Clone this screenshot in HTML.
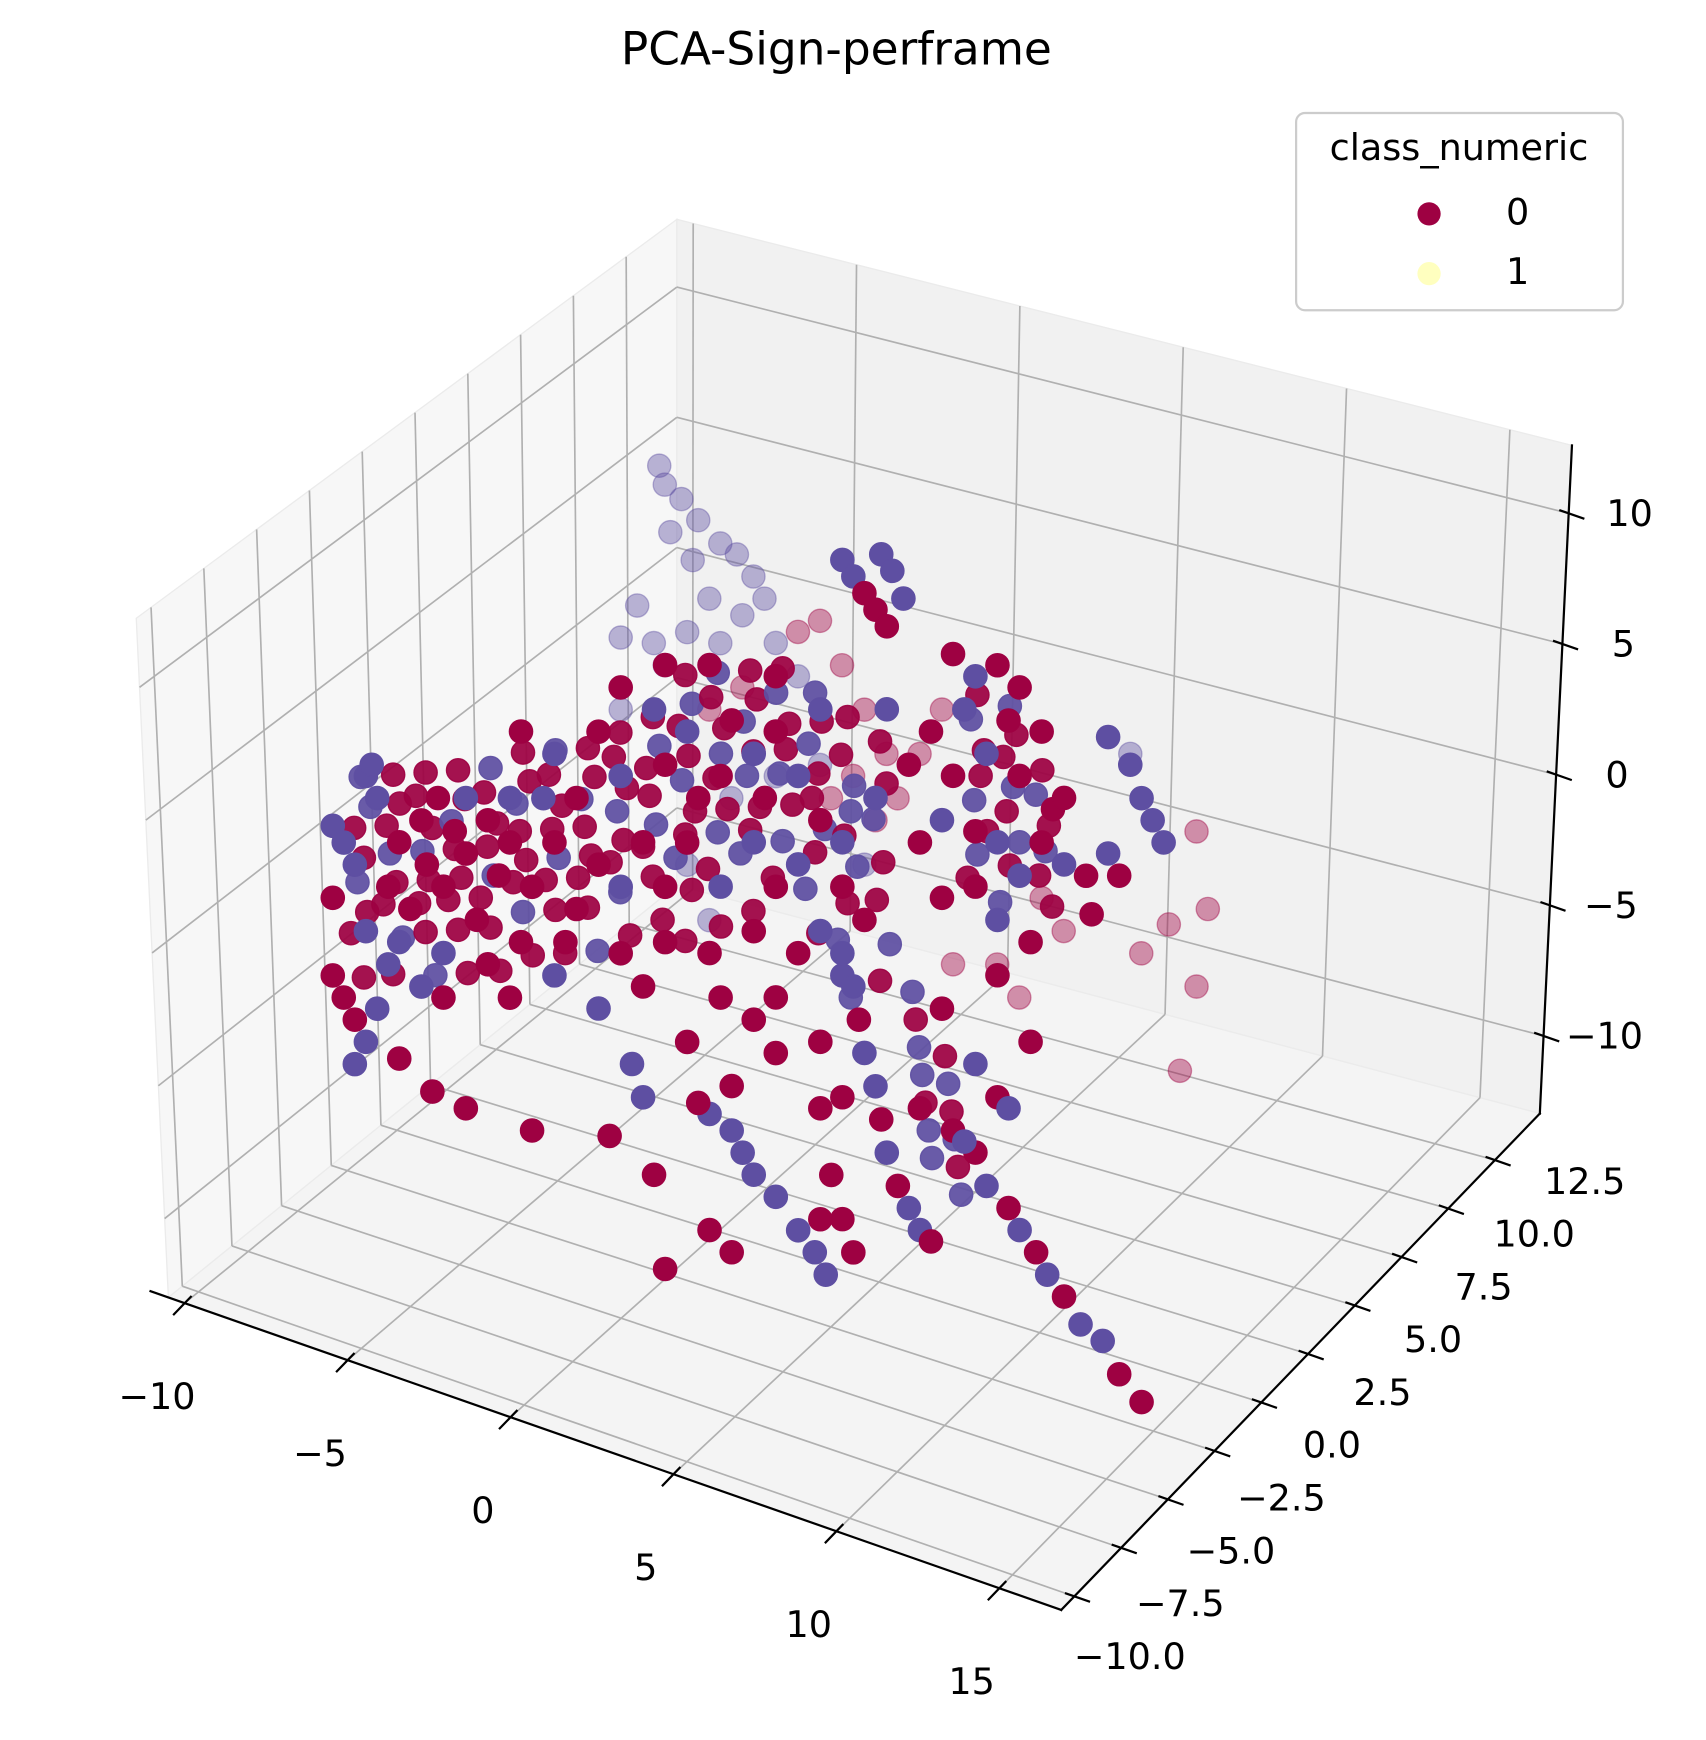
<!DOCTYPE html>
<html><head><meta charset="utf-8"><title>PCA-Sign-perframe</title>
<style>html,body{margin:0;padding:0;background:#fff;}svg{display:block;}</style></head>
<body>
<svg id="chart" xmlns="http://www.w3.org/2000/svg" width="1706" height="1740" viewBox="0 0 1540 1570.4" preserveAspectRatio="none" font-family="DejaVu Sans, Liberation Sans, sans-serif">
<rect x="0" y="0" width="1540" height="1571" fill="#ffffff"/>
<text x="755" y="47" font-size="41" text-anchor="middle" dominant-baseline="middle" fill="#000">PCA-Sign-perframe</text>
<g id="panes"></g>
<g id="grid"></g>
<g id="axes"></g>
<g id="points"></g>
<g id="legend">
  <rect x="1170" y="102" width="295" height="178" rx="8" fill="#ffffff" fill-opacity="0.8" stroke="#cccccc" stroke-width="2"/>
  <text x="1317" y="135" font-size="33" text-anchor="middle" dominant-baseline="middle">class_numeric</text>
  <g>
    <circle cx="1290" cy="193" r="10.5" fill="#9e0142"/>
    <text x="1370" y="193" font-size="33" text-anchor="middle" dominant-baseline="middle">0</text>
  </g>
  <g>
    <circle cx="1290" cy="247" r="10.5" fill="#ffffbf"/>
    <text x="1370" y="247" font-size="33" text-anchor="middle" dominant-baseline="middle">1</text>
  </g>
</g>
</svg>
<script>
const xTicks = [-10, -5, 0, 5, 10, 15];
const yTicks = [-10, -7.5, -5, -2.5, 0, 2.5, 5, 7.5, 10, 12.5];
const zTicks = [-10, -5, 0, 5, 10];
const xTickLabels = ["\u221210", "\u22125", "0", "5", "10", "15"];
const yTickLabels = ["\u221210.0", "\u22127.5", "\u22125.0", "\u22122.5", "0.0", "2.5", "5.0", "7.5", "10.0", "12.5"];
const zTickLabels = ["\u221210", "\u22125", "0", "5", "10"];
const classColors = ["#9e0142", "#ffffbf", "#5e4fa2"];

const xVals = [
-10.24,-9.90,-9.22,-8.87,-9.04,-9.56,-8.53,-8.19,-7.51,-7.0,
-6.48,-7.34,-7.85,-6.83,-6.14,-5.46,-5.12,-5.80,-4.78,-4.10,
-3.41,-2.73,-2.05,-3.07,-4.44,-5.46,-6.83,-6.14,-4.78,-3.75,
-8.19,-9.22,-10.24,-9.9,-9.56,-9.22,-9.56,-8.87,-8.19,-7.17,
-6.14,-4.10,-1.71,-6.83,-4.78,-3.41,-2.05,-1.37,-0.68,0,
-8.53,-7.51,-10.24,
-1.37,-0.34,0,0.68,1.02,1.71,2.05,2.73,3.41,3.07,
4.10,4.78,5.46,4.10,3.41,2.73,1.71,1.37,0.68,-0.68,
-1.37,0,5.46,4.78,6.14,4.10,1.71,3.41,5.46,6.48,
6.83,1.37,3.41,4.78,2.73,0,-1.37,-2.05,-3.41,-4.44,
-2.73,
5.46,5.80,6.14,6.66,7.0,7.34,6.48,6.83,
8.87,9.56,10.24,10.92,10.58,9.22,9.90,10.92,11.60,8.87,
8.53,9.56,10.24,10.92,11.60,12.29,9.56,10.24,8.53,7.85,
7.51,8.19,11.26,11.95,
13.65,14.33,14.68,15.02,15.36,13.65,13.99,12.97,12.29,13.14,
5.46,5.80,5.97,6.14,6.48,6.66,6.83,7.17,7.51,7.85,
8.19,8.87,9.56,9.90,10.58,10.92,11.43,11.77,12.29,12.80,
13.48,13.99,14.68,4.78,5.46,5.12,5.46,5.80,3.41,4.10,
4.61,4.95,4.78,-1.02,-0.68,1.37,2.05,2.39,2.73,1.02,
0,1.37,2.05,4.78,9.56,10.24,10.58,9.22,10.24,11.26,
7.85,8.53,3.41,2.73,0.68,-0.34,2.05,
-5.77,-5.60,-5.09,-4.57,-5.43,-4.74,-3.89,-3.38,-2.87,-2.53,
-3.21,-4.23,-4.91,-6.45,-6.96,-5.94,-5.60,-3.89,-2.18,-1.50,
-6.96,-1.50,-0.82,-0.14,0.55,1.23,0.20,-0.48,0.89,1.57,
2.94,2.25,6.01,6.69,10.78,11.13,10.78,10.27,9.93,9.08,
-4.23,-3.21,4.64,3.28,5.32,-2.18,-0.82,-3.55,-4.91,-4.23,
0.55,8.74,
-10.0,-9.7,-10.2,-9.9,-10.1,-9.8,-10.3,-9.9,
-9.0,-8.8,-9.2,-9.1,-8.9,-9.3,-8.7,-9.0,
-8.0,-8.3,-7.8,-8.1,-7.9,-8.2,-8.0,-7.7,
-7.0,-6.8,-7.2,-7.1,-6.9,-7.3,-7.0,-6.7,
-6.0,-6.2,-5.8,-6.1,-5.9,-6.3,-6.0,-5.7,
-5.0,-4.8,-5.2,-5.1,-4.9,-5.3,-5.0,-4.7,
-4.0,-4.2,-3.8,-4.1,-3.9,-4.3,-4.0,-3.7,
-3.0,-2.8,-3.2,-3.1,-2.9,-3.3,-3.0,-2.7,
-2.0,-2.2,-1.8,-2.1,-1.9,-2.3,-2.0,-1.7,
-1.0,-0.8,-1.2,-1.1,-0.9,-1.3,-1.0,-0.7,
0.0,0.2,-0.2,0.1,-0.1,0.3,0.0,-0.3,0.2,0.0,
1.0,0.8,1.2,1.1,0.9,1.3,1.0,0.7,1.1,
2.0,2.2,1.8,2.1,1.9,2.3,2.0,1.7,2.1,
3.0,2.8,3.2,3.1,2.9,3.3,3.0,2.7,
4.0,4.2,3.8,4.1,3.9,4.3,4.0,3.7,4.1,
5.0,4.8,5.2,5.1,4.9,5.3,5.0,4.7,5.1,
6.0,6.2,5.8,6.1,5.9,6.3,6.0,
9.0,8.8,9.2,9.1,8.9,9.3,9.0,8.7,
10.0,10.2,9.8,10.1,9.9,10.3,10.0,9.7,
11.0,10.8,11.2,11.1,10.9,11.3,
7.0,7.1,7.2,7.3,7.4,7.5,7.6,
8.0,8.1,8.2,8.3,8.4,8.5
];
const yVals = [
-3,-3,-3,-3,-3,-3,-3,-3,-3,-3,-3,-3,-3,-3,-3,-3,-3,-3,-3,-3,
-3,-3,-3,-3,-3,-3,-3,-3,-3,-3,-3,-3,-3,-3,-3,-3,-3,-3,-3,-3,
-3,-3,-3,-3,-3,-3,-3,-3,-3,-3,-3,-3,-3,-3,-3,-3,-3,-3,-3,-3,
-3,-3,-3,-3,-3,-3,-3,-3,-3,-3,-3,-3,-3,-3,-3,-3,-3,-3,-3,-3,
-3,-3,-3,-3,-3,-3,-3,-3,-3,-3,-3,-3,-3,-3,-3,-3,-3,-3,-3,-3,
-3,-3,-3,-3,-3,-3,-3,-3,-3,-3,-3,-3,-3,-3,-3,-3,-3,-3,-3,-3,
-3,-3,-3,-3,-3,-3,-3,-3,-3,-3,-3,-3,-3,-3,-3,-3,-3,-3,-3,-3,
-3,-3,-3,-3,-3,-3,-3,-3,-3,-3,-3,-3,-3,-3,-3,-3,-3,-3,-3,-3,
-3,-3,-3,-3,-3,-3,-3,-3,-3,-3,-3,-3,-3,-3,-3,-3,-3,-3,-3,-3,
-3,-3,-3,-3,-3,-3,-3,-3,-3,-3,-3,-3,-3,
6,6,6,6,6,6,6,6,6,6,6,6,6,6,6,6,6,6,6,6,
6,6,6,6,6,6,6,6,6,6,6,6,6,6,6,6,6,6,6,6,
6,6,6,6,6,6,6,6,6,6,6,6,
-2,-2,-2,-2,-2,-2,-2,-2,-2,-2,-2,-2,-2,-2,-2,-2,-2,-2,-2,-2,
-2,-2,-2,-2,-2,-2,-2,-2,-2,-2,-2,-2,-2,-2,-2,-2,-2,-2,-2,-2,
-2,-2,-2,-2,-2,-2,-2,-2,-2,-2,-2,-2,-2,-2,-2,-2,-2,-2,-2,-2,
-2,-2,-2,-2,-2,-2,-2,-2,-2,-2,-2,-2,-2,-2,-2,-2,-2,-2,-2,-2,
-2,-2,-2,-2,-2,-2,-2,-2,-2,-2,-2,-2,-2,-2,-2,-2,-2,-2,-2,-2,
-2,-2,-2,-2,-2,-2,-2,-2,-2,-2,-2,-2,-2,-2,-2,-2,-2,-2,-2,-2,
-2,-2,-2,-2,-2,-2,-2,-2,-2,-2,-2,-2,-2,-2,-2,-2,-2,-2,-2,-2,
-2,-2,-2,-2,-2,-2,-2,-2,-2,-2,-2,-2,-2,-2,-2,-2,-2,-2,-2,-2,
-2,-2,-2,-2,-2,-2,-2,-2,-2,-2,-2,-2,-2,-2,-2,-2
];
const zVals = [
-1.14,-1.63,1.16,0.47,1.65,-2.32,-2.72,-0.91,0.20,1.25,
0.22,-1.39,-3.27,-2.01,-0.48,1.06,-0.88,-2.83,0.51,-0.88,
1.08,-1.14,0.81,-2.53,-3.10,-4.36,-4.51,1.61,2.18,2.60,
-4.66,-4.68,-6.77,-7.46,-8.15,-8.84,-9.82,-7.45,-9.04,-9.86,
-10.06,-10.04,-9.25,-6.18,-5.33,-3.92,-4.60,-2.24,-3.20,-1.25,
-5.64,-6.05,-3.85,
4.43,7.36,5.42,6.95,4.59,5.71,7.94,6.97,8.09,5.45,
6.71,5.33,4.78,3.38,2.25,0.30,1.55,-1.09,2.78,2.22,
0.26,0.83,3.11,1.16,2.14,0.04,-2.62,-1.91,-0.23,6.87,
10.35,9.74,10.17,9.49,3.64,9.17,7.76,5.81,4.41,4.82,
3.03,
15.4,14.92,14.43,16.11,15.63,14.73,13.95,13.47,
13.28,12.73,13.43,12.88,11.49,11.34,9.96,9.55,11.5,8.70,
6.89,6.90,6.77,5.80,7.33,6.79,4.82,3.85,3.97,5.77,
8.55,10.08,3.44,8.73,
12.15,11.39,10.28,9.59,8.90,7.77,7.08,6.65,9.29,5.27,
0.61,-0.5,-1.68,-2.86,-3.97,-5.14,-6.32,-7.43,-8.12,-8.81,
-9.09,-4.64,-5.18,-6.29,-6.84,-7.53,-8.15,-8.85,-9.46,-10.29,
-10.63,-11.67,-12.43,-3.01,-4.81,-7.87,-9.39,-10.5,-9.41,-10.38,
-10.99,-11.69,-9.68,-6.26,-7.37,-7.14,-7.48,-8.17,-8.86,-6.87,
-13.54,-11.51,-12.06,-5.51,-1.85,-2.82,-3.09,-4.91,1.77,-0.31,
-4.23,-0.2,-4.0,-3.03,-4.72,-10.14,-5.81,
7.10,6.46,6.13,5.55,4.74,3.98,4.96,4.76,4.14,3.45,
2.54,2.74,1.20,1.56,0.14,0.36,-0.33,1.21,1.93,0.96,
-2.57,2.63,3.33,1.94,0.56,-0.82,-2.08,-3.2,-3.46,-2.35,
1.56,-0.40,-4.25,-5.21,0.24,-2.53,-5.59,-8.97,-3.61,-5.05,
-1.43,-0.17,-7.32,-7.88,-8.28,-3.08,-2.09,-4.48,-7.55,-9.35,
-5.27,2.31,
0,-1,-2,-3,-4,-5,-6,-7.5,
0.5,-0.5,-1.5,-2.5,-3.5,-4.5,-5.5,-7,
1,0,-1,-2,-3,-4,-5,-6.5,
1.5,0.5,-0.5,-1.5,-2.5,-3.5,-4.5,-6,
2,1,0,-1,-2,-3,-4,-5.5,
3,2,1,0,-1,-2,-3,-4.5,
3.5,2.5,1.5,0.5,-0.5,-1.5,-2.5,-4,
4,3,2,1,0,-1,-2,-3.5,
5,4,3,2,1,0,-1,-2.5,
6,5,4,3,2,1,0,-1.5,
8,7,6,5,4,3,2,1,0,-2,
8.5,7.5,6.5,5.5,4.5,3.5,2.5,1,-1,
9,8,7,6,5,4,3,2,0,
9.5,8.5,7.5,6.5,5.5,4.5,3,1.5,
9,8,7,6,5,4,3,1.5,0,
8.5,7,6,5,4,3,1.5,0,-2,
8,6.5,5,3.5,2,0.5,-1,
11,10,9,8,7,6,5,4,
11,10,9,8,7,6,5,3.5,
9,8,7,6,5,4,
-1,-2,-3,-4,-5,-6,-7,
-3,-4,-5,-6,-7,-8
];
const classVals = [
2,2,2,2,2,2,0,0,0,0,
0,0,0,0,0,0,0,0,0,0,
0,0,0,0,0,0,2,2,2,2,
2,2,0,0,0,2,2,2,0,0,
0,0,0,0,0,2,2,0,0,0,
2,2,0,
2,2,0,2,0,0,0,2,0,0,
2,0,2,2,0,0,2,0,0,0,
2,0,0,2,0,0,0,0,2,2,
2,0,0,2,2,0,0,0,2,0,
0,
2,2,0,2,2,2,0,0,
0,2,0,0,0,2,2,0,0,0,
2,0,2,2,0,2,0,2,0,0,
0,0,0,0,
2,2,2,2,2,2,0,0,0,0,
2,2,0,2,2,0,2,0,2,2,
0,0,0,2,0,2,0,2,0,2,
2,0,0,0,0,0,0,0,2,2,
2,2,0,2,2,2,2,2,2,0,
0,0,0,0,2,0,2,2,0,0,
0,0,0,0,0,0,0,
2,2,2,2,2,2,2,2,2,2,
2,2,2,2,2,2,2,2,2,2,
2,0,0,0,0,0,0,0,0,0,
0,0,0,0,0,0,0,0,0,0,
0,0,0,0,0,2,2,2,2,2,
2,2,
2,2,0,0,2,0,0,0,
0,0,0,2,0,0,2,0,
0,0,0,2,0,0,0,2,
0,0,2,0,0,0,0,0,
2,0,0,0,2,0,0,0,
0,0,2,0,0,0,2,0,
2,0,0,0,2,0,0,0,
0,0,2,0,0,0,0,2,
0,0,0,2,0,0,2,0,
0,2,0,0,2,0,0,0,
0,2,0,0,2,0,0,2,0,0,
2,0,0,2,0,0,2,0,0,
0,0,2,0,2,0,0,2,0,
0,2,0,0,2,0,2,0,
2,0,2,0,0,2,0,2,0,
0,0,2,2,0,2,0,2,2,
0,0,2,0,0,2,0,
0,2,0,0,2,0,2,0,
2,0,0,2,0,2,0,2,
0,2,0,2,0,0,
2,0,2,2,0,2,2,
0,2,0,2,0,2
];

const NS = "http://www.w3.org/2000/svg";
const X_MIN = -10.5, X_MAX = 16.9, Y_MIN = -10.7, Y_MAX = 14.9, Z_MIN = -12.97, Z_MAX = 12.6;
const L = [152, 1171], F = [958, 1453], R = [1390, 1005], B = [611, 799];
const TL = [123, 558], TB = [611, 198], TR = [1419, 402];

function lerp(a, b, t) { return [a[0] + (b[0] - a[0]) * t, a[1] + (b[1] - a[1]) * t]; }
function uOf(x) { return (x - X_MIN) / (X_MAX - X_MIN); }
function vOf(y) { return (y - Y_MIN) / (Y_MAX - Y_MIN); }
function wOf(z) { return (z - Z_MIN) / (Z_MAX - Z_MIN); }
function projX(x, y, z) { return 655 + 29.3 * x + 18.2 * y; }
function projY(x, y, z) { return 763 + 10 * x - 19.1 * y - 24 * z; }

function mk(tag, attrs, parent) {
  const el = document.createElementNS(NS, tag);
  for (const k in attrs) el.setAttribute(k, attrs[k]);
  parent.appendChild(el);
  return el;
}
function poly(pts) { return pts.map(p => p[0].toFixed(1) + "," + p[1].toFixed(1)).join(" "); }

const panes = document.getElementById("panes");
let p;
p = mk("polygon", { points: poly([L, B, TB, TL]), fill: "#f7f7f7", stroke: "#ebebeb", "stroke-width": 1.2 }, panes);


p = mk("polygon", { points: poly([B, R, TR, TB]), fill: "#f1f1f1", stroke: "#ebebeb", "stroke-width": 1.2 }, panes);


p = mk("polygon", { points: poly([L, F, R, B]), fill: "#f4f4f4", stroke: "#ebebeb", "stroke-width": 1.2 }, panes);



const grid = document.getElementById("grid");
function gline(a, b, name) {
  const l = mk("line", { x1: a[0], y1: a[1], x2: b[0], y2: b[1], stroke: "#b0b0b0", "stroke-width": 1.5 }, grid);
  
  
}
xTicks.forEach(x => {
  const u = uOf(x);
  gline(lerp(B, R, u), lerp(TB, TR, u), "x-gridline-back");
  gline(lerp(L, F, u), lerp(B, R, u), "x-gridline-floor");
});
yTicks.forEach(y => {
  const v = vOf(y);
  gline(lerp(L, B, v), lerp(TL, TB, v), "y-gridline-left");
  gline(lerp(L, B, v), lerp(F, R, v), "y-gridline-floor");
});
zTicks.forEach(z => {
  const w = wOf(z);
  gline(lerp(L, TL, w), lerp(B, TB, w), "z-gridline-left");
  gline(lerp(B, TB, w), lerp(R, TR, w), "z-gridline-back");
});

const axes = document.getElementById("axes");
function aline(a, b, name, wdt) {
  const l = mk("line", { x1: a[0], y1: a[1], x2: b[0], y2: b[1], stroke: "#000", "stroke-width": wdt, "stroke-linecap": "square" }, axes);
  
  
}
function label(x, y, txt, name) {
  const t = mk("text", { x: x, y: y, "font-size": 33, "text-anchor": "middle", "dominant-baseline": "middle", fill: "#000" }, axes);
  t.textContent = txt;
  
  
}
aline(lerp(L, F, -0.02), F, "x-axis-line", 2);
aline(F, R, "y-axis-line", 2);
aline(R, TR, "z-axis-line", 2);
const dX = [-0.694, 0.72], dYZ = [0.944, 0.33];
xTicks.forEach((x, i) => {
  const q = lerp(L, F, uOf(x));
  aline([q[0] - dX[0] * 8, q[1] - dX[1] * 8], [q[0] + dX[0] * 14, q[1] + dX[1] * 14], "x-tick", 2);
  label(q[0] - 25, q[1] + 86, xTickLabels[i], "x-tick-label");
});
yTicks.forEach((y, i) => {
  const v = vOf(y);
  const q = lerp(F, R, v);
  aline([q[0] - dYZ[0] * 8, q[1] - dYZ[1] * 8], [q[0] + dYZ[0] * 14, q[1] + dYZ[1] * 14], "y-tick", 2);
  const k = (v - 0.027) / 0.879;
  label(q[0] + 50 + 31 * k, q[1] + 56 - 35 * k, yTickLabels[i], "y-tick-label");
});
zTicks.forEach((z, i) => {
  const q = lerp(R, TR, wOf(z));
  aline([q[0] - dYZ[0] * 8, q[1] - dYZ[1] * 8], [q[0] + dYZ[0] * 14, q[1] + dYZ[1] * 14], "z-tick", 2);
  label(q[0] + 55, q[1] + 2, zTickLabels[i], "z-tick-label");
});

const pointsG = document.getElementById("points");
const n = Math.min(xVals.length, yVals.length, zVals.length, classVals.length);
const order = [];
for (let i = 0; i < n; i++) order.push(i);
order.sort((a, b) => yVals[b] - yVals[a]);
order.forEach(i => {
  const col = classColors[classVals[i]];
  const alpha = Math.max(0.35, Math.min(1, 1 - (yVals[i] + 3) * 0.065));
  const c = mk("circle", {
    cx: projX(xVals[i], yVals[i], zVals[i]).toFixed(1),
    cy: projY(xVals[i], yVals[i], zVals[i]).toFixed(1),
    r: 10.5, fill: col, "fill-opacity": alpha, stroke: col, "stroke-opacity": alpha, "stroke-width": 1.2
  }, pointsG);
  
  
});
</script>
</body></html>
